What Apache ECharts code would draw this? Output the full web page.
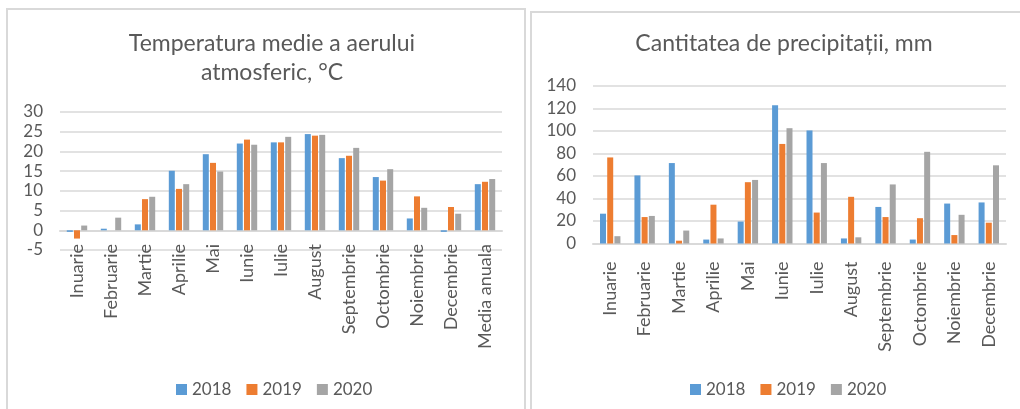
<!DOCTYPE html>
<html>
<head>
<meta charset="utf-8">
<title>Temperatura și precipitații</title>
<script src="https://cdn.jsdelivr.net/npm/echarts@6/dist/echarts.min.js"></script>
<style>
  html, body { margin: 0; padding: 0; background: #ffffff; }
  #chart { width: 1020px; height: 409px; }
</style>
</head>
<body>
<div id="chart"></div>
<script>
// Years shown in both panels
const years = ['2018', '2019', '2020'];

// Left panel: mean air temperature, °C
const tempCategories = ['Inuarie', 'Februarie', 'Martie', 'Aprilie', 'Mai', 'Iunie', 'Iulie',
  'August', 'Septembrie', 'Octombrie', 'Noiembrie', 'Decembrie', 'Media anuala'];
const temp2018 = [-0.4, 0.4, 1.5, 15.1, 19.3, 22.0, 22.3, 24.4, 18.3, 13.5, 3.0, -0.4, 11.7];
const temp2019 = [-2.1, 0.0, 7.9, 10.5, 17.1, 23.0, 22.3, 24.0, 18.9, 12.6, 8.6, 5.9, 12.3];
const temp2020 = [1.2, 3.2, 8.5, 11.7, 14.9, 21.7, 23.7, 24.2, 20.9, 15.5, 5.7, 4.2, 13.0];
const tempTicks = { min: -5, max: 30, step: 5 };

// Right panel: precipitation amount, mm
const precCategories = ['Inuarie', 'Februarie', 'Martie', 'Aprilie', 'Mai', 'Iunie', 'Iulie',
  'August', 'Septembrie', 'Octombrie', 'Noiembrie', 'Decembrie'];
const prec2018 = [26.5, 60.5, 71.5, 3.5, 19.5, 123, 100.5, 4.5, 32.5, 3.5, 35.5, 36.5];
const prec2019 = [76.5, 23.5, 2.5, 34.5, 54.5, 88.5, 27.5, 41.5, 23.5, 22.5, 7.5, 18.5];
const prec2020 = [6.5, 24.5, 11.5, 4.5, 56.5, 102.5, 71.5, 5.5, 52.5, 81.5, 25.5, 69.5];
const precTicks = { min: 0, max: 140, step: 20 };

const colors = ['#5B9BD5', '#ED7D31', '#A5A5A5'];
const textColor = '#595959';
const lineColor = '#d9d9d9';
const font = 'Lato, "Open Sans", sans-serif';

function catAxis(gridIndex, data, margin) {
  return {
    type: 'category', gridIndex, data,
    axisLine: { onZero: true, lineStyle: { color: lineColor, width: 2 } },
    axisTick: { show: false },
    axisLabel: { rotate: 90, interval: 0, margin, color: textColor, fontSize: 18, fontFamily: font }
  };
}

function valAxis(gridIndex, t) {
  return {
    type: 'value', gridIndex, min: t.min, max: t.max, interval: t.step,
    axisLine: { show: false }, axisTick: { show: false },
    splitLine: { lineStyle: { color: lineColor, width: 1.5 } },
    axisLabel: { color: textColor, fontSize: 17, fontFamily: font, margin: 17 }
  };
}

function barSeries(name, data, idx, axis) {
  return {
    name, type: 'bar', data, xAxisIndex: axis, yAxisIndex: axis,
    barWidth: 6, barGap: '20%',
    itemStyle: { color: colors[idx] },
    emphasis: { disabled: true }
  };
}

const chart = echarts.init(document.getElementById('chart'), null, { renderer: 'canvas' });

chart.setOption({
  animation: false,
  color: colors,
  graphic: [
    { type: 'rect', shape: { x: 7, y: 9, width: 518, height: 420 },
      style: { fill: 'none', stroke: lineColor, lineWidth: 2 }, silent: true },
    { type: 'rect', shape: { x: 531, y: 12, width: 520, height: 420 },
      style: { fill: 'none', stroke: lineColor, lineWidth: 2 }, silent: true }
  ],
  title: [
    { text: 'Temperatura medie a aerului\natmosferic, °C', left: 267, top: 24, textAlign: 'center',
      textStyle: { color: textColor, fontSize: 23, fontWeight: 'normal', fontFamily: font, lineHeight: 29 } },
    { text: 'Cantitatea de precipitații, mm', left: 779, top: 27, textAlign: 'center',
      textStyle: { color: textColor, fontSize: 23, fontWeight: 'normal', fontFamily: font } }
  ],
  legend: [
    { data: years, left: 171, top: 376, icon: 'rect', itemWidth: 11, itemHeight: 11, itemGap: 15,
      textStyle: { color: textColor, fontSize: 17, fontFamily: font } },
    { data: years, left: 685, top: 376, icon: 'rect', itemWidth: 11, itemHeight: 11, itemGap: 15,
      textStyle: { color: textColor, fontSize: 17, fontFamily: font } }
  ],
  grid: [
    { left: 60, width: 442, top: 112, height: 138 },
    { left: 593, width: 413, top: 86, height: 157.5 }
  ],
  xAxis: [catAxis(0, tempCategories, -6), catAxis(1, precCategories, 18)],
  yAxis: [valAxis(0, tempTicks), valAxis(1, precTicks)],
  series: [
    barSeries(years[0], temp2018, 0, 0),
    barSeries(years[1], temp2019, 1, 0),
    barSeries(years[2], temp2020, 2, 0),
    barSeries(years[0], prec2018, 0, 1),
    barSeries(years[1], prec2019, 1, 1),
    barSeries(years[2], prec2020, 2, 1)
  ]
});
</script>
</body>
</html>
